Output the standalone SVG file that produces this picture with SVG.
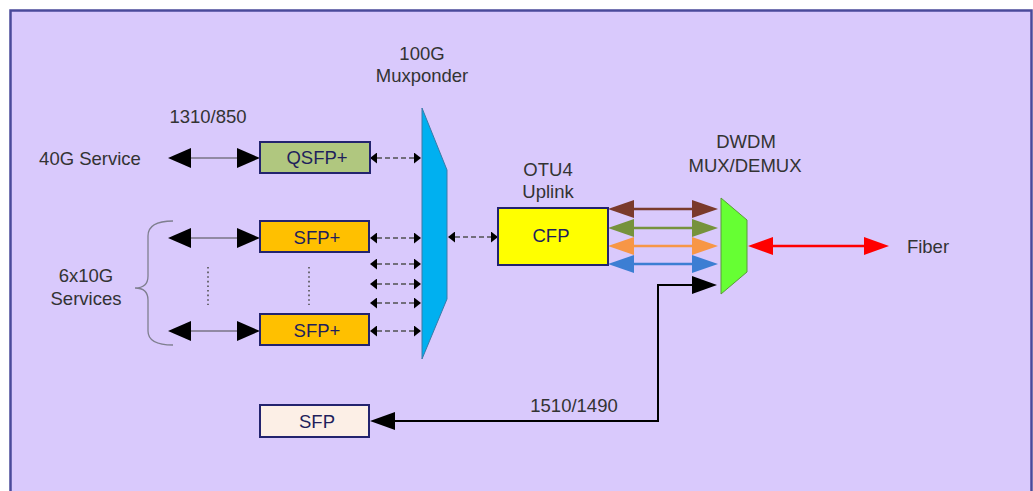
<svg xmlns="http://www.w3.org/2000/svg" width="1033" height="491" viewBox="0 0 1033 491">
<style>
text{font-family:"Liberation Sans",Arial,sans-serif;font-size:18.5px;}
.lbl{fill:#333333;text-anchor:middle;}
.btxt{fill:#1f1f5c;text-anchor:middle;}
.box{stroke:#23236e;stroke-width:2;}
.thin{stroke:#4a4a4a;stroke-width:1.2;fill:none;}
.dash{stroke:#505050;stroke-width:1.4;stroke-dasharray:5 3;fill:none;}
.dots{stroke:#505050;stroke-width:1.6;stroke-dasharray:1.6 3;fill:none;}
</style>
<defs>
<marker id="big" markerUnits="userSpaceOnUse" markerWidth="23" markerHeight="20" refX="0" refY="10" orient="auto-start-reverse" viewBox="0 0 23 20"><path d="M0,0 L23,10 L0,20 z" fill="#000"/></marker>
<marker id="sm" markerUnits="userSpaceOnUse" markerWidth="7" markerHeight="11" refX="0" refY="5.5" orient="auto-start-reverse" viewBox="0 0 7 11"><path d="M0,0 L7,5.5 L0,11 z" fill="#000"/></marker>
<marker id="blk" markerUnits="userSpaceOnUse" markerWidth="25" markerHeight="18" refX="0" refY="9" orient="auto-start-reverse" viewBox="0 0 25 18"><path d="M0,0 L25,9 L0,18 z" fill="#000"/></marker>
<marker id="mbr" markerUnits="userSpaceOnUse" markerWidth="26" markerHeight="18" refX="0" refY="9" orient="auto-start-reverse" viewBox="0 0 26 18"><path d="M0,0 L26,9 L0,18 z" fill="#7a3a2b"/></marker>
<marker id="mgr" markerUnits="userSpaceOnUse" markerWidth="26" markerHeight="18" refX="0" refY="9" orient="auto-start-reverse" viewBox="0 0 26 18"><path d="M0,0 L26,9 L0,18 z" fill="#76923c"/></marker>
<marker id="mor" markerUnits="userSpaceOnUse" markerWidth="26" markerHeight="18" refX="0" refY="9" orient="auto-start-reverse" viewBox="0 0 26 18"><path d="M0,0 L26,9 L0,18 z" fill="#f79646"/></marker>
<marker id="mbl" markerUnits="userSpaceOnUse" markerWidth="26" markerHeight="18" refX="0" refY="9" orient="auto-start-reverse" viewBox="0 0 26 18"><path d="M0,0 L26,9 L0,18 z" fill="#3c7ed3"/></marker>
<marker id="mrd" markerUnits="userSpaceOnUse" markerWidth="25" markerHeight="18" refX="0" refY="9" orient="auto-start-reverse" viewBox="0 0 25 18"><path d="M0,0 L25,9 L0,18 z" fill="#ff0000"/></marker>
</defs>

<rect x="0" y="0" width="1033" height="491" fill="#ffffff"/>
<rect id="frame" x="10.5" y="10.5" width="1021" height="500" fill="#d9c9fc" stroke="#4a4a9a" stroke-width="2.5"/>

<g id="connectors">
<line class="thin" x1="191" y1="158" x2="237" y2="158" marker-start="url(#big)" marker-end="url(#big)"/>
<line class="thin" x1="191" y1="238" x2="237" y2="238" marker-start="url(#big)" marker-end="url(#big)"/>
<line class="thin" x1="191" y1="331" x2="237" y2="331" marker-start="url(#big)" marker-end="url(#big)"/>
<line class="dash" x1="377" y1="158" x2="414" y2="158" marker-start="url(#sm)" marker-end="url(#sm)"/>
<line class="dash" x1="377" y1="238" x2="414" y2="238" marker-start="url(#sm)" marker-end="url(#sm)"/>
<line class="dash" x1="377" y1="264" x2="414" y2="264" marker-start="url(#sm)" marker-end="url(#sm)"/>
<line class="dash" x1="377" y1="284" x2="414" y2="284" marker-start="url(#sm)" marker-end="url(#sm)"/>
<line class="dash" x1="377" y1="303" x2="414" y2="303" marker-start="url(#sm)" marker-end="url(#sm)"/>
<line class="dash" x1="377" y1="331" x2="414" y2="331" marker-start="url(#sm)" marker-end="url(#sm)"/>
<line class="dash" x1="455" y1="237" x2="491" y2="237" marker-start="url(#sm)" marker-end="url(#sm)"/>
<line x1="634" y1="209" x2="692" y2="209" stroke="#7a3a2b" stroke-width="2.5" marker-start="url(#mbr)" marker-end="url(#mbr)"/>
<line x1="634" y1="228" x2="692" y2="228" stroke="#76923c" stroke-width="2.5" marker-start="url(#mgr)" marker-end="url(#mgr)"/>
<line x1="634" y1="246" x2="692" y2="246" stroke="#f79646" stroke-width="2.5" marker-start="url(#mor)" marker-end="url(#mor)"/>
<line x1="634" y1="264" x2="692" y2="264" stroke="#3c7ed3" stroke-width="2.5" marker-start="url(#mbl)" marker-end="url(#mbl)"/>
<line x1="773" y1="246" x2="864" y2="246" stroke="#ff0000" stroke-width="2.5" marker-start="url(#mrd)" marker-end="url(#mrd)"/>
<path d="M692,285 L658,285 L658,421 L395,421" fill="none" stroke="#000" stroke-width="2" marker-start="url(#blk)" marker-end="url(#blk)"/>
<line class="dots" x1="208" y1="267" x2="208" y2="305"/>
<line class="dots" x1="309" y1="267" x2="309" y2="305"/>
<path d="M173,221 Q148,221 148,236 L148,276 Q148,288 135,288 Q148,288 148,300 L148,331 Q148,345 173,345" fill="none" stroke="#7f7f8f" stroke-width="1.3"/>
</g>

<g id="labels">
<text class="lbl" x="90" y="165">40G Service</text>
<text class="lbl" x="208" y="123">1310/850</text>
<text class="lbl" x="422" y="60">100G</text>
<text class="lbl" x="422" y="82">Muxponder</text>
<text class="lbl" x="86" y="282">6x10G</text>
<text class="lbl" x="86" y="305">Services</text>
<text class="lbl" x="548" y="176">OTU4</text>
<text class="lbl" x="548" y="198">Uplink</text>
<text class="lbl" x="746" y="148">DWDM</text>
<text class="lbl" x="745" y="172">MUX/DEMUX</text>
<text class="lbl" x="928" y="253">Fiber</text>
<text class="lbl" x="574" y="412">1510/1490</text>
</g>

<g id="qsfp"><rect class="box" x="260" y="142" width="110" height="31" fill="#b0c77f"/><text class="btxt" x="317" y="164">QSFP+</text></g>
<g id="sfp1"><rect class="box" x="260" y="221" width="109" height="31" fill="#ffc000"/><text class="btxt" x="317" y="244">SFP+</text></g>
<g id="sfp2"><rect class="box" x="260" y="314" width="109" height="31" fill="#ffc000"/><text class="btxt" x="317" y="337">SFP+</text></g>
<g id="sfp"><rect class="box" x="260" y="405" width="109" height="32" fill="#fcefe6"/><text class="btxt" x="317" y="428">SFP</text></g>
<g id="cfp"><rect class="box" x="498" y="208" width="110" height="57" fill="#ffff00"/><text class="btxt" x="551" y="242">CFP</text></g>
<g id="muxponder"><polygon points="422,108 447,170 447,299 422,359" fill="#00b0f0" stroke="#3a7aa8" stroke-width="1"/></g>
<g id="dwdm"><polygon points="721,198 747,220 747,272 721,294" fill="#66ff33" stroke="#5a9a3a" stroke-width="1"/></g>
</svg>
